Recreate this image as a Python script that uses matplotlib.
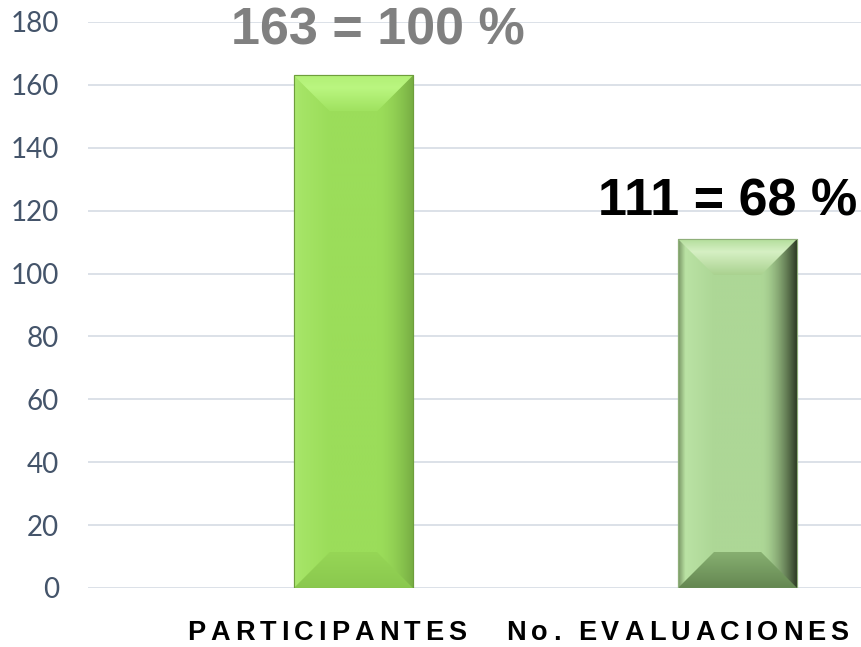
import numpy as np
import matplotlib
matplotlib.use("Agg")
import matplotlib.pyplot as plt
import matplotlib.transforms as mtransforms
from matplotlib.patches import Polygon

# Data
categories = ["PARTICIPANTES", "No. EVALUACIONES"]
values = [163, 111]
bar_labels = ["163 = 100 %", "111 = 68 %"]
yticks = [0, 20, 40, 60, 80, 100, 120, 140, 160, 180]

# Styles
label_colors = ["#808080", "#000000"]
label_shift = [(0.064, 9.7), (-0.026, 7.6)]    # (x, y) shift of value labels, data units
cat_shift = [-0.069, -0.156]                    # shift of category labels, data units
base_rgb = [(155, 221, 90), (173, 215, 150)]
left_rgb = [(172, 232, 112), (120, 150, 100)]
light_rgb = [(165, 228, 102), (186, 226, 164)]
right_rgb = [(118, 172, 66), (40, 52, 32)]
top_rgb = [[(178, 240, 118), (186, 246, 128), (160, 226, 96)],
           [(180, 222, 156), (214, 240, 196), (170, 210, 144)]]
bot_rgb = [[(150, 214, 86), (138, 200, 78)],
           [(135, 175, 112), (100, 135, 82)]]
edge_cols = ["#6E9E3C", "#8FAF7A"]

fig = plt.figure(figsize=(8.62, 6.47), dpi=100)
ax = fig.add_axes([88 / 862, 59 / 647, 774 / 862, 566 / 647])
ax.set_xlim(-0.691, 1.324)
ax.set_ylim(0, 180)

x = np.arange(len(categories))
bars = ax.bar(x, values, width=0.31, color=[tuple(c / 255 for c in b) for b in base_rgb],
              edgecolor=edge_cols, linewidth=0.8, zorder=2)

# gridlines / axes
ax.set_yticks(yticks)
ax.yaxis.grid(True, color="#D9DEE6", linewidth=1.3)
ax.set_axisbelow(True)
for s in ax.spines.values():
    s.set_visible(False)
ax.tick_params(axis="y", length=0, pad=21, labelsize=20, labelcolor="#44546A")
for t in ax.get_yticklabels():
    t.set_family("Lato")
ax.set_xticks([])

# bevel decoration
px_x = ax.transData.transform((1, 0))[0] - ax.transData.transform((0, 0))[0]
px_y = ax.transData.transform((0, 1))[1] - ax.transData.transform((0, 0))[1]
bev = 36
bx, by = bev / px_x, bev / px_y


def lerp(c1, c2, t):
    c1, c2 = np.array(c1) / 255, np.array(c2) / 255
    return c1 + (c2 - c1) * t


for i, p in enumerate(bars.patches):
    x0, w, h = p.get_x(), p.get_width(), p.get_height()
    # horizontal face gradient
    n = 200
    u = np.linspace(0, 1, n)
    row = np.zeros((n, 3))
    for k, uu in enumerate(u):
        if uu < 0.06:
            row[k] = lerp(left_rgb[i], light_rgb[i], uu / 0.06)
        elif uu < 0.3:
            row[k] = lerp(light_rgb[i], base_rgb[i], (uu - 0.06) / 0.24)
        elif uu < 0.7:
            row[k] = lerp(base_rgb[i], base_rgb[i], 0)
        else:
            row[k] = lerp(base_rgb[i], right_rgb[i], ((uu - 0.7) / 0.3) ** 1.6)
    im = ax.imshow(row[None, :, :], extent=(x0, x0 + w, 0, h), aspect="auto",
                   zorder=2.1, interpolation="bilinear")
    im.set_clip_path(p)

    # top bevel
    top = Polygon([(x0, h), (x0 + w, h), (x0 + w - bx, h - by), (x0 + bx, h - by)],
                  closed=True, facecolor="none", edgecolor="none", zorder=2.2)
    ax.add_patch(top)
    v = np.linspace(0, 1, 50)
    col = np.array([lerp(top_rgb[i][0], top_rgb[i][1], t / 0.35) if t < 0.35
                    else lerp(top_rgb[i][1], top_rgb[i][2], (t - 0.35) / 0.65) for t in v])
    im2 = ax.imshow(col[:, None, :], extent=(x0, x0 + w, h - by, h), aspect="auto",
                    zorder=2.2, interpolation="bilinear")
    im2.set_clip_path(top)

    # bottom bevel
    bot = Polygon([(x0, 0), (x0 + w, 0), (x0 + w - bx, by), (x0 + bx, by)],
                  closed=True, facecolor="none", edgecolor="none", zorder=2.2)
    ax.add_patch(bot)
    col = np.array([lerp(bot_rgb[i][0], bot_rgb[i][1], t) for t in v])
    im3 = ax.imshow(col[:, None, :], extent=(x0, x0 + w, 0, by), aspect="auto",
                    zorder=2.2, interpolation="bilinear")
    im3.set_clip_path(bot)

    # outline on top
    ax.add_patch(plt.Rectangle((x0, 0), w, h, facecolor="none",
                               edgecolor=edge_cols[i], linewidth=0.8, zorder=2.3))

ax.set_xlim(-0.691, 1.324)
ax.set_ylim(0, 180)

# value labels
for i, v in enumerate(values):
    ax.text(x[i] + label_shift[i][0], v + label_shift[i][1], bar_labels[i],
            ha="center", va="baseline", fontsize=37.5, fontweight="bold",
            family="Liberation Sans", color=label_colors[i], zorder=3)

# category labels with letter spacing
renderer = fig.canvas.get_renderer()
track = 5.0
size = 19.5


def text_w(s):
    t = ax.text(0, 0, s, fontsize=size, fontweight="bold", family="Liberation Sans")
    wd = t.get_window_extent(renderer).width
    t.remove()
    return wd


hh = text_w("HH")
base_tr = mtransforms.blended_transform_factory(ax.transData, ax.transAxes)
for i, name in enumerate(categories):
    adv = [text_w("H" + ch + "H") - hh for ch in name]
    total = sum(adv) + track * (len(name) - 1)
    pos = -total / 2
    for ch, wd in zip(name, adv):
        if ch != " ":
            tr = mtransforms.offset_copy(base_tr, fig=fig, x=pos, y=-52, units="dots")
            ax.text(x[i] + cat_shift[i], 0, ch, transform=tr, ha="left", va="baseline",
                    fontsize=size, fontweight="bold", family="Liberation Sans",
                    color="black", clip_on=False)
        pos += wd + track

fig.savefig("out.png", dpi=100)
